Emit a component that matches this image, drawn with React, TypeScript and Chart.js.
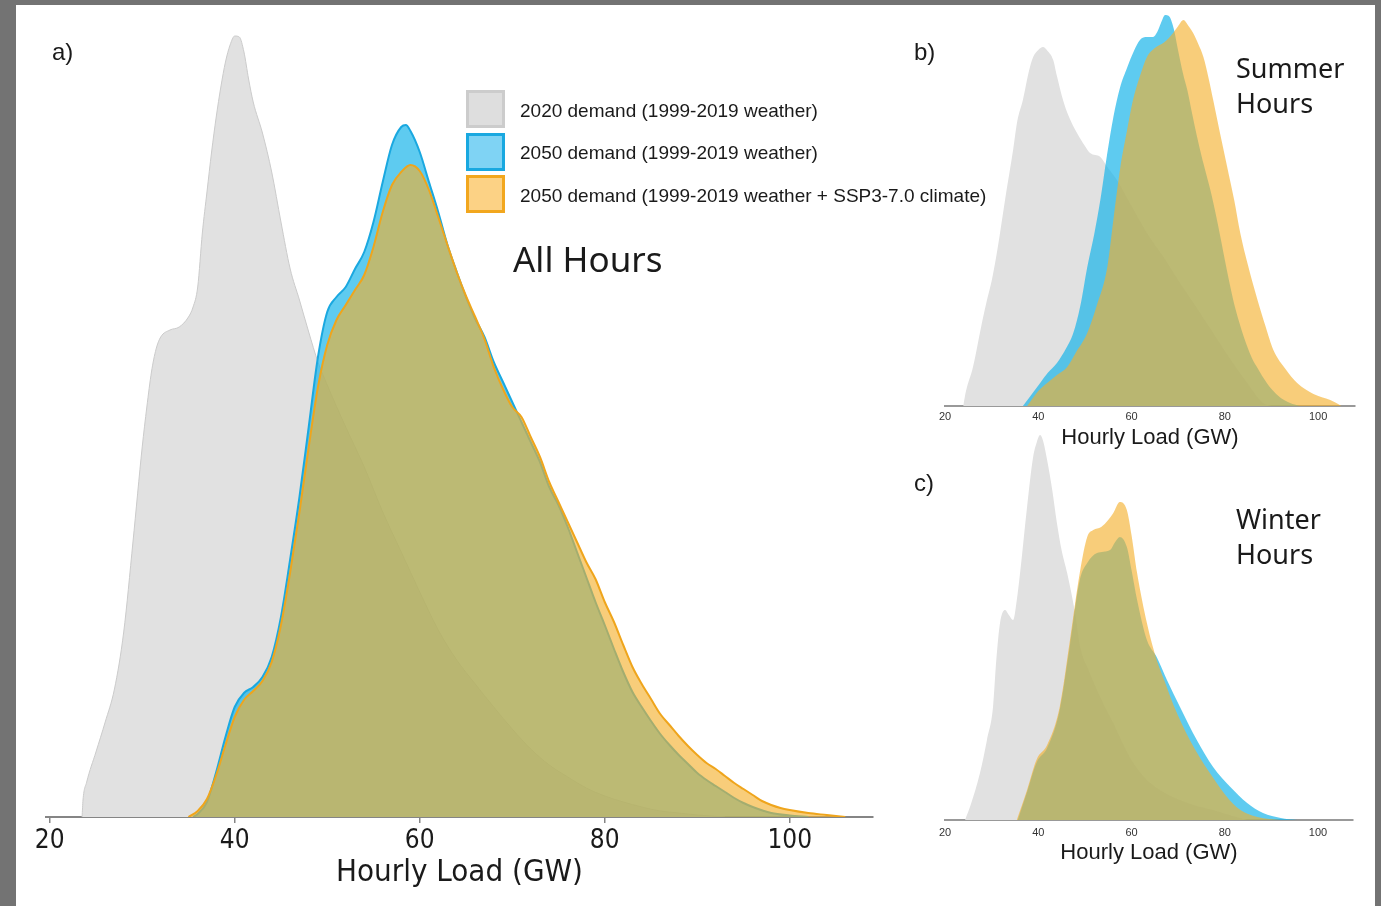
import React, { useEffect, useRef } from 'react';
import { Chart, registerables } from 'chart.js';

Chart.register(...registerables);

// ---- Data: [Hourly load (GW), relative density] ----
const TICKS = [20, 40, 60, 80, 100];

// a) All hours
const GRAY_A: number[][] = [[23.5,0],[23.6,1.7],[24,3.5],[25,6.5],[26,9.5],[27,12.8],[28,18.5],[29,27.5],[30,37],[30.5,41],[31,44.5],[31.5,46.8],[32,48],[33,48.7],[34,49],[35,50],[35.5,51],[36,53],[36.5,58.4],[37,62.5],[37.5,66.5],[38,70],[38.5,73],[39,75.5],[39.5,77.2],[40,78.1],[40.5,78],[41,76.5],[41.5,73.8],[42,71.5],[43,68.4],[44,64.5],[45,59.5],[46,54.8],[47,51.7],[48,48.5],[49,45.5],[50,43.2],[52,39],[54,35],[56,30.5],[58,26.5],[60,22.5],[62,18.7],[64,15.7],[66,13.3],[68,11],[70,8.8],[72,6.8],[74,5.2],[76,4],[78,2.9],[80,2.1],[82,1.5],[84,1],[86,0.6],[88,0.4],[90,0.2],[93,0]];
const BLUE_A: number[][] = [[35.5,0],[36,0.3],[37,1.5],[38,4.5],[39,8],[40,11],[41,12.4],[42,13],[43,14],[44,16],[45,20],[46,25.8],[47,32],[48,39],[49,46],[50,50.5],[51,52],[52,53],[53,54.8],[54,56.5],[55,59.5],[56,63.5],[57,67.2],[58,69],[58.5,69.2],[59,68.6],[60,66.5],[61,63.5],[62,60.5],[63,57.2],[64,54.5],[65,52],[66,49.8],[67,48],[68,45.5],[69,43.5],[70,41.5],[71,39.5],[72,37.5],[73,35.5],[74,33],[75,31.2],[76,29],[77,26.5],[78,24],[79,21.5],[80,19.2],[81,16.8],[82,14.5],[83,12.5],[84,11],[85,9.6],[86,8.3],[87,7.2],[88,6.2],[89,5.3],[90,4.4],[91,3.7],[92,3.1],[93,2.5],[94,1.9],[95,1.4],[96,1],[98,0.4],[100,0.15],[102,0]];
const ORANGE_A: number[][] = [[35,0],[36,0.6],[37,1.8],[38,4.2],[39,7.2],[40,10],[41,11.7],[42,12.6],[43,13.6],[44,15.5],[45,19.2],[46,24.5],[47,30.5],[48,37],[49,43],[50,47.2],[51,49.7],[52,51.2],[53,52.7],[54,54.2],[55,57],[56,60.5],[57,63.2],[58,64.5],[59,65.2],[60,64.6],[61,62.7],[62,60],[63,57.2],[64,54.5],[65,52.1],[66,50],[67,47.8],[68,45],[69,42.8],[70,41],[71,40],[72,38],[73,36],[74,33.5],[75,31.5],[76,29.5],[77,27.5],[78,25.5],[79,23.8],[80,21.5],[81,19.5],[82,17.2],[83,15],[84,13.3],[85,11.8],[86,10.3],[87,9.2],[88,8.1],[89,7.1],[90,6.2],[91,5.4],[92,4.8],[93,4.1],[94,3.4],[95,2.8],[96,2.2],[97,1.6],[98,1.2],[99,0.9],[100,0.7],[102,0.4],[104,0.2],[106,0]];

// b) Summer hours
const GRAY_B: number[][] = [[23.9,0],[24.5,1.5],[26,3.9],[28,8.5],[29,10.6],[30,12.5],[31,15],[31.8,17.3],[33,21],[34.6,25.6],[35.5,28.5],[36.7,30.6],[38,33.5],[38.9,34.9],[40,35.6],[41,35.9],[42,35.5],[43.2,34.6],[44,33],[45.3,30.6],[46.5,29],[48.3,27.3],[50,26],[51.1,25.3],[53.3,24.9],[54.8,23.9],[57,22.5],[60,20],[63.3,17.3],[67,14.8],[70.4,12.3],[74,9.8],[77.5,7.3],[81,4.8],[84.8,2.3],[88.2,0.3],[90,0]];
const BLUE_B: number[][] = [[36.7,0],[38,0.8],[40.4,2.3],[42,3.3],[44,4.3],[46,5.8],[47.5,7.3],[49,10],[50.5,13.9],[52,17.2],[53.3,20.6],[54.7,25],[56.1,28.9],[57.5,31.8],[59.1,33.9],[60.5,35.5],[61.8,36.6],[63,36.9],[64.6,36.9],[65.5,37.4],[66.3,38.3],[67.2,39.1],[68,39],[69,37.8],[70,35.5],[71,33.3],[72,31.5],[73,29.2],[74,27],[75,25],[76,23.2],[77,21.4],[78,19.3],[79,17],[80,14.6],[81,12.3],[82,10.2],[83,8.5],[84,7],[85,5.7],[86,4.6],[87,3.8],[88,3],[89,2.3],[90,1.7],[92,0.8],[94,0.3],[96,0]];
const ORANGE_B: number[][] = [[37.6,0],[40,1.5],[41.9,2.3],[44,3.1],[46.2,3.9],[48,5.3],[50.5,7.3],[52.5,10],[54.8,13.9],[56.2,19],[57.6,23.9],[59,27.5],[60.3,30.6],[61.8,33],[63.3,34.9],[65,35.8],[66.8,36.3],[68,36.8],[68.9,37.3],[70,38],[71.1,38.6],[72.2,38],[73.2,37.3],[74.3,36.2],[75.4,34.9],[76.5,32.8],[77.5,30.6],[79,27.2],[80.5,23.9],[82,20.6],[83.3,17.3],[85,14],[87,10.6],[88.7,8],[90.4,5.6],[93,3.7],[95.5,2.3],[99,1.2],[102.6,0.6],[105,0]];

// c) Winter hours
const GRAY_C: number[][] = [[24.3,0],[25.5,1.5],[27.5,4.7],[29,8],[30.3,11.3],[31,16],[31.8,19.7],[32.9,21],[33.7,20.5],[34.6,20],[35.4,22],[36.1,24.7],[37.6,31.3],[38.9,36.3],[39.7,37.8],[40.4,38.5],[41.1,37.8],[41.9,36],[43,33],[44,29.7],[45,27],[46.2,24.7],[47.9,20.7],[49,17.3],[50.8,15],[52.6,13],[54.3,11.3],[56.1,9.7],[57.8,8],[59.6,6.3],[61.5,5],[63.3,4],[66.8,2.8],[70.4,2],[74,1.4],[77.5,1],[81,0.5],[84.8,0]];
const BLUE_C: number[][] = [[35.6,0],[37.6,2.8],[39.7,5.8],[41.9,7.2],[44.6,11],[46.8,17.5],[48.9,24],[50.5,25.7],[52.6,26.7],[55.4,27],[56.5,27.8],[57.5,28.3],[59,27.3],[60,25],[61.2,22],[63.3,18],[65.4,16.3],[67.6,14],[70.4,11.3],[74,8],[77.5,5.3],[81.2,3.3],[84.8,1.7],[88.2,0.7],[92,0.2],[95.5,0]];
const ORANGE_C: number[][] = [[35.4,0],[37.6,3],[39.7,6.1],[41.9,7.5],[44.6,11.3],[46.8,18],[48.9,24.7],[50.5,28.3],[51.8,29],[53.5,29.3],[55,30],[56.1,30.7],[57.5,31.8],[59,31],[60,28.5],[61.2,24.7],[63.3,19.7],[65.4,16],[67,14],[69,11.5],[72.5,8],[76.8,4.7],[82.5,1.3],[87,0.3],[92,0]];

const LEGEND_LABELS = [
  '2020 demand (1999-2019 weather)',
  '2050 demand (1999-2019 weather)',
  '2050 demand (1999-2019 weather + SSP3-7.0 climate)',
];

// ---- Styles ----
const GRAY_FILL = '#e1e1e1';
const GRAY_LINE = '#cbcbcb';
const BLUE_FILL = 'rgba(26,181,234,0.7)';
const BLUE_LINE = '#1aa8e0';
const ORANGE_FILL = 'rgba(244,176,45,0.63)';
const ORANGE_LINE = '#efa51c';
const NARROW = "'Liberation Sans Narrow', 'Arial Narrow', 'DejaVu Sans Condensed', 'Liberation Sans', sans-serif";
const ARIAL = "'Liberation Sans', Arial, sans-serif";
const SANS = "'Noto Sans', 'Open Sans', sans-serif";

type PanelSpec = {
  left: number; top: number; width: number; height: number;
  padL: number; padR: number;
  xMin: number; xMax: number; yMax: number;
  axisH: number;
  tickFont: any; tickColor: string; tickLen: number; tickPad: number;
  titleFont: any; titlePadB: number;
  borderW: number; borderColor: string;
  lineW: number;
  gray: number[][]; blue: number[][]; orange: number[][];
};

function toPts(arr: number[][]) {
  return arr.map(([x, y]) => ({ x, y }));
}

function Panel({ spec }: { spec: PanelSpec }) {
  const ref = useRef<HTMLCanvasElement | null>(null);
  useEffect(() => {
    const canvas = ref.current;
    if (!canvas) return;
    const s = spec;
    const ds = (data: number[][], fill: string, line: string, w: number) => ({
      data: toPts(data),
      backgroundColor: fill,
      borderColor: w > 0 ? line : 'rgba(0,0,0,0)',
      borderWidth: w > 0 ? w : 0.01,
      fill: 'origin',
      pointRadius: 0,
      cubicInterpolationMode: 'monotone',
    });
    const chart = new Chart(canvas, {
      type: 'line',
      data: {
        datasets: [
          ds(s.orange, ORANGE_FILL, ORANGE_LINE, s.lineW) as any,
          ds(s.blue, BLUE_FILL, BLUE_LINE, s.lineW) as any,
          ds(s.gray, GRAY_FILL, GRAY_LINE, s.lineW > 0 ? 1 : 0) as any,
        ],
      },
      options: {
        animation: false,
        responsive: false,
        maintainAspectRatio: false,
        events: [],
        layout: { padding: { left: s.padL, right: s.padR, top: 0, bottom: 0 } },
        plugins: { legend: { display: false }, tooltip: { enabled: false }, title: { display: false } },
        scales: {
          x: {
            type: 'linear',
            min: s.xMin,
            max: s.xMax,
            afterBuildTicks: (scale: any) => {
              scale.ticks = TICKS.map((v) => ({ value: v }));
            },
            afterFit: (scale: any) => {
              scale.height = s.axisH;
            },
            grid: {
              display: s.tickLen > 0,
              drawOnChartArea: false,
              drawTicks: s.tickLen > 0,
              tickLength: s.tickLen,
              color: s.borderColor,
              lineWidth: 1.5,
            },
            border: { display: true, color: s.borderColor, width: s.borderW },
            ticks: {
              autoSkip: false,
              maxRotation: 0,
              padding: s.tickPad,
              color: s.tickColor,
              font: s.tickFont,
            },
            title: {
              display: true,
              text: 'Hourly Load (GW)',
              color: '#1a1a1a',
              font: s.titleFont,
              padding: { top: 0, bottom: s.titlePadB },
            },
          },
          y: { display: false, min: 0, max: s.yMax },
        },
      } as any,
    });
    return () => chart.destroy();
  }, [spec]);
  return (
    <canvas
      ref={ref}
      width={spec.width}
      height={spec.height}
      style={{ position: 'absolute', left: spec.left, top: spec.top, width: spec.width, height: spec.height, display: 'block' }}
    />
  );
}

const SPEC_A: PanelSpec = {
  left: 6, top: 17, width: 887, height: 880, padL: 40, padR: 20,
  xMin: 19.6, xMax: 109, yMax: 80, axisH: 80,
  tickFont: { family: NARROW, size: 26 }, tickColor: '#1a1a1a', tickLen: 6, tickPad: 3,
  titleFont: { family: NARROW, size: 31 }, titlePadB: 5,
  borderW: 2, borderColor: '#858585', lineW: 2,
  gray: GRAY_A, blue: BLUE_A, orange: ORANGE_A,
};
const SPEC_B: PanelSpec = {
  left: 925, top: 6, width: 445, height: 450, padL: 20, padR: 15,
  xMin: 20, xMax: 107.9, yMax: 40, axisH: 50,
  tickFont: { family: ARIAL, size: 11 }, tickColor: '#333', tickLen: 0, tickPad: 4,
  titleFont: { family: ARIAL, size: 22 }, titlePadB: 5,
  borderW: 2, borderColor: '#999', lineW: 0,
  gray: GRAY_B, blue: BLUE_B, orange: ORANGE_B,
};
const SPEC_C: PanelSpec = {
  left: 925, top: 420, width: 445, height: 450, padL: 20, padR: 17,
  xMin: 20, xMax: 107.5, yMax: 40, axisH: 50,
  tickFont: { family: ARIAL, size: 11 }, tickColor: '#333', tickLen: 0, tickPad: 6,
  titleFont: { family: ARIAL, size: 22 }, titlePadB: 4,
  borderW: 2, borderColor: '#999', lineW: 0,
  gray: GRAY_C, blue: BLUE_C, orange: ORANGE_C,
};

function Label({ x, cy, size, family, children }: any) {
  return (
    <div
      style={{
        position: 'absolute', left: x, top: cy - size / 2, fontSize: size, lineHeight: `${size}px`,
        fontFamily: family, color: '#1a1a1a', whiteSpace: 'nowrap', zIndex: 2,
      }}
    >
      {children}
    </div>
  );
}

const SWATCHES = [
  { fill: '#dedede', border: '#cccccc' },
  { fill: '#7fd3f4', border: '#19a8e0' },
  { fill: '#fcd285', border: '#f2a71e' },
];

export default function App() {
  return (
    <div style={{ position: 'fixed', left: 0, top: 0, width: 1381, height: 906, background: '#737373', overflow: 'hidden' }}>
      <div style={{ position: 'absolute', left: 16, top: 5, width: 1359, height: 901, background: '#ffffff' }} />
      <Panel spec={SPEC_A} />
      <Panel spec={SPEC_B} />
      <Panel spec={SPEC_C} />

      <Label x={52} cy={52} size={24} family={ARIAL}>a)</Label>
      <Label x={914} cy={52} size={24} family={ARIAL}>b)</Label>
      <Label x={914} cy={483} size={24} family={ARIAL}>c)</Label>

      {LEGEND_LABELS.map((t, i) => (
        <React.Fragment key={t}>
          <div
            style={{
              position: 'absolute', left: 466, top: 90 + i * 42.5, width: 39, height: 38,
              boxSizing: 'border-box', background: SWATCHES[i].fill, border: `3px solid ${SWATCHES[i].border}`, zIndex: 2,
            }}
          />
          <Label x={520} cy={110 + i * 42.5} size={19} family={ARIAL}>{t}</Label>
        </React.Fragment>
      ))}

      <Label x={513} cy={258} size={35} family={SANS}>All Hours</Label>
      <Label x={1236} cy={67} size={27} family={SANS}>Summer</Label>
      <Label x={1236} cy={102} size={27} family={SANS}>Hours</Label>
      <Label x={1236} cy={518} size={27} family={SANS}>Winter</Label>
      <Label x={1236} cy={553} size={27} family={SANS}>Hours</Label>
    </div>
  );
}
